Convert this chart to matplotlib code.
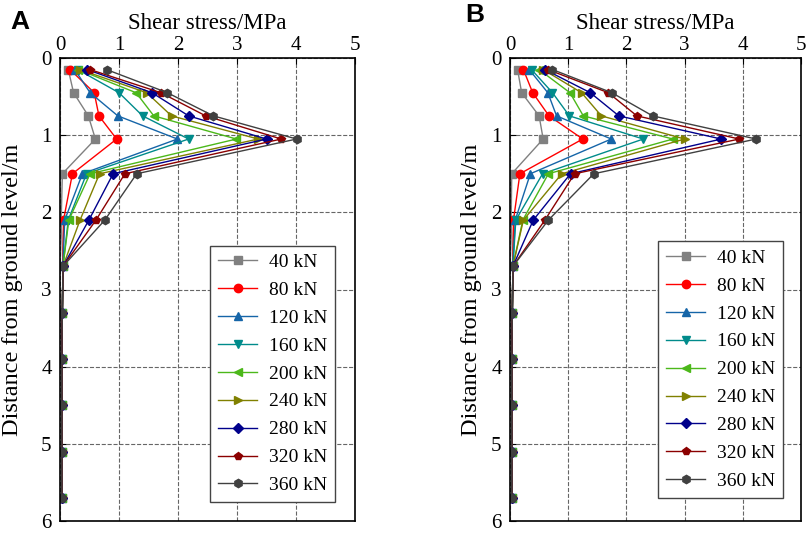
import matplotlib.pyplot as plt
import numpy as np

plt.rcParams['font.family'] = ['Liberation Serif', 'DejaVu Serif']

depth = [0.15, 0.45, 0.75, 1.05, 1.5, 2.1, 2.7, 3.3, 3.9, 4.5, 5.1, 5.7]
loads = ['40 kN', '80 kN', '120 kN', '160 kN', '200 kN',
         '240 kN', '280 kN', '320 kN', '360 kN']

tail = [0.05, 0.04, 0.03, 0.03, 0.03, 0.03]

stress_a = [
    [0.14, 0.23, 0.48, 0.60, 0.04, 0.02] + tail,
    [0.17, 0.58, 0.66, 0.96, 0.21, 0.06] + tail,
    [0.25, 0.51, 0.98, 1.99, 0.38, 0.08] + tail,
    [0.30, 1.00, 1.40, 2.18, 0.45, 0.14] + tail,
    [0.31, 1.29, 1.59, 2.99, 0.51, 0.15] + tail,
    [0.34, 1.47, 1.89, 3.36, 0.67, 0.34] + tail,
    [0.46, 1.56, 2.18, 3.50, 0.90, 0.49] + tail,
    [0.51, 1.71, 2.47, 3.75, 1.10, 0.61] + tail,
    [0.79, 1.82, 2.60, 4.01, 1.30, 0.76] + tail,
]

stress_b = [
    [0.13, 0.20, 0.50, 0.57, 0.03, 0.02] + tail,
    [0.23, 0.39, 0.67, 1.25, 0.17, 0.06] + tail,
    [0.33, 0.65, 0.80, 1.74, 0.35, 0.09] + tail,
    [0.37, 0.73, 1.02, 2.29, 0.56, 0.10] + tail,
    [0.50, 1.03, 1.26, 2.80, 0.66, 0.22] + tail,
    [0.57, 1.23, 1.57, 3.00, 0.89, 0.23] + tail,
    [0.60, 1.38, 1.87, 3.63, 1.04, 0.40] + tail,
    [0.65, 1.69, 2.18, 3.94, 1.11, 0.60] + tail,
    [0.73, 1.75, 2.45, 4.23, 1.44, 0.66] + tail,
]

colors = ['#808080', '#ff0000', '#1565a8', '#008b8b', '#4cb81a',
          '#808000', '#00008b', '#8b0000', '#404040']
markers = ['s', 'o', '^', 'v', '<', '>', 'D', 'p', 'h']

fig = plt.figure(figsize=(8.07, 5.35), dpi=100)
W, H = 807, 535
ax_a = fig.add_axes([60 / W, 1 - 521 / H, 295 / W, 463 / H])
ax_b = fig.add_axes([510 / W, 1 - 521 / H, 291 / W, 463 / H])


def draw(ax, data, legend_anchor, ylab_x):
    for vals, c, m, lab in zip(data, colors, markers, loads):
        ms = 5 if m == 'D' else 6
        ax.plot(vals, depth, color=c, marker=m, markersize=ms,
                linewidth=1, label=lab)
    ax.set_xlim(0, 5)
    ax.set_ylim(6, 0)
    ax.xaxis.tick_top()
    ax.xaxis.set_label_position('top')
    ax.set_xticks(range(6))
    ax.set_yticks(range(7))
    ax.tick_params(direction='in', labelsize=15, length=4,
                   top=True, bottom=False, left=True, right=False)
    ax.tick_params(axis='x', pad=2)
    ax.tick_params(axis='y', pad=6)
    ax.set_xlabel('Shear stress/MPa', fontsize=16.5, labelpad=5)
    ax.set_ylabel('Distance from ground level/m', fontsize=17.5)
    ax.yaxis.set_label_coords(ylab_x, 0.5)
    ax.grid(True, linestyle='--', color='#666666', linewidth=0.8)
    for s in ax.spines.values():
        s.set_linewidth(1.2)
    leg = ax.legend(loc='lower right', bbox_to_anchor=legend_anchor,
                    fontsize=14, handlelength=2.0, handletextpad=0.6,
                    labelspacing=0.53, borderaxespad=0,
                    fancybox=False, edgecolor='#444444', framealpha=1,
                    borderpad=0.4)
    leg.get_frame().set_linewidth(1)


draw(ax_a, stress_a, (0.932, 0.041), -0.125)
draw(ax_b, stress_b, (0.938, 0.050), -0.095)

fig.text(10 / W, 1 - 22 / H, 'A', fontsize=19, fontweight='bold',
         family='Liberation Sans', va='center')
fig.text(465 / W, 1 - 15 / H, 'B', fontsize=19, fontweight='bold',
         family='Liberation Sans', va='center')

fig.savefig('out.png', dpi=100)
